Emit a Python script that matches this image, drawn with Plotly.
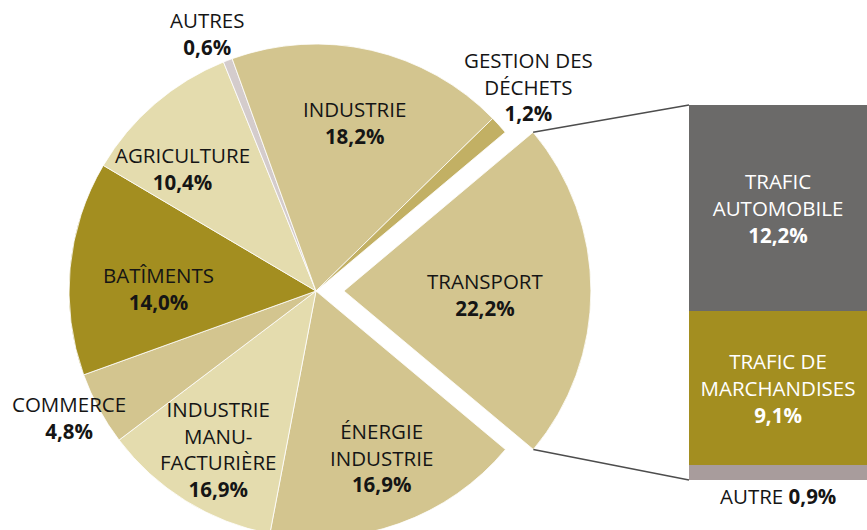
import math
import plotly.graph_objects as go

# ---------------- data ----------------
sectors = ["TRANSPORT", "ÉNERGIE INDUSTRIE", "INDUSTRIE MANUFACTURIÈRE", "COMMERCE",
           "BATÎMENTS", "AGRICULTURE", "AUTRES", "INDUSTRIE", "GESTION DES DÉCHETS"]
# slice sizes as drawn in the picture
sector_values = [22.2, 16.9, 11.7, 4.8, 14.0, 10.4, 0.6, 18.2, 1.2]
# printed percentages
sector_pct = ["22,2%", "16,9%", "16,9%", "4,8%", "14,0%", "10,4%", "0,6%", "18,2%", "1,2%"]
sector_lines = [["TRANSPORT"], ["ÉNERGIE", "INDUSTRIE"], ["INDUSTRIE", "MANU-", "FACTURIÈRE"],
                ["COMMERCE"], ["BATÎMENTS"], ["AGRICULTURE"], ["AUTRES"], ["INDUSTRIE"],
                ["GESTION DES", "DÉCHETS"]]

transport_parts = ["AUTRE", "TRAFIC DE MARCHANDISES", "TRAFIC AUTOMOBILE"]
transport_values = [0.9, 9.1, 12.2]
transport_pct = ["0,9%", "9,1%", "12,2%"]
transport_lines = [["AUTRE"], ["TRAFIC DE", "MARCHANDISES"], ["TRAFIC", "AUTOMOBILE"]]

# ---------------- styles / layout ----------------
TAN, CREAM, OLIVE = "#d3c58f", "#e4dcae", "#a38e20"
sector_colors = [TAN, TAN, CREAM, TAN, OLIVE, CREAM, "#d4cccc", TAN, "#c2b064"]
part_colors = ["#a89c9c", OLIVE, "#6b6a69"]

W, H = 867, 570          # page is viewed through an 867x530 window
CX, CY, R, PULL = 316, 291, 247, 0.113
ROT = 50
FONT = "Open Sans"
FS = 20.5
LS = 23.5                # line pitch in the reference, used to centre blocks
BAR_L, BAR_R, BAR_T, BAR_B = 689, 867, 105, 480

label_pos = {            # centre x, centre of first line y
    "TRANSPORT": (485, 283),
    "ÉNERGIE INDUSTRIE": (381, 434),
    "INDUSTRIE MANUFACTURIÈRE": (218, 414),
    "COMMERCE": (69, 406),
    "BATÎMENTS": (158, 277),
    "AGRICULTURE": (182, 157),
    "AUTRES": (207, 22),
    "INDUSTRIE": (354, 111),
    "GESTION DES DÉCHETS": (528, 63),
}


def px(x):
    return x / W


def py(y):
    return 1 - y / H


half = R * (1 + PULL)
fig = go.Figure()
fig.add_trace(go.Pie(
    labels=sectors, values=sector_values, sort=False, direction="clockwise",
    rotation=ROT, pull=[PULL] + [0] * (len(sectors) - 1),
    marker=dict(colors=sector_colors, line=dict(color="white", width=0.8)),
    textinfo="none", hoverinfo="label+value", showlegend=False,
    domain=dict(x=[px(CX - half), px(CX + half)], y=[py(CY + half), py(CY - half)]),
))

for name, val, col, lines, pct in zip(transport_parts, transport_values, part_colors,
                                      transport_lines, transport_pct):
    inside = name != "AUTRE"
    fig.add_trace(go.Bar(
        x=[0], y=[val], width=[1], name=name,
        marker=dict(color=col, line=dict(width=0)),
        text=["<br>".join(lines) + "<br><b>" + pct + "</b>"] if inside else None,
        textposition="inside" if inside else "none",
        insidetextanchor="middle", constraintext="none",
        insidetextfont=dict(family=FONT, size=FS, color="white"),
        showlegend=False, hoverinfo="name+y"))

ann = []
# pie labels
for name, lines, pct in zip(sectors, sector_lines, sector_pct):
    x0, y0 = label_pos[name]
    n = len(lines) + 1
    yc = y0 + (n - 1) / 2 * LS
    ann.append(dict(x=px(x0), y=py(yc), xref="paper", yref="paper",
                    text="<br>".join(lines) + "<br><b>" + pct + "</b>",
                    showarrow=False, xanchor="center", yanchor="middle", align="center",
                    font=dict(family=FONT, size=FS, color="#151515")))

# label under the bar for the small segment
i_aut = transport_parts.index("AUTRE")
ann.append(dict(x=0, y=0, xref="x", yref="y",
                text=transport_lines[i_aut][0] + " <b>" + transport_pct[i_aut] + "</b>",
                showarrow=False, xanchor="center", yanchor="middle", yshift=-16,
                font=dict(family=FONT, size=FS, color="#151515")))

# connector lines from exploded slice corners to bar corners
off = PULL * R
a0 = math.radians(ROT)
a1 = math.radians(ROT + 360 * sector_values[0] / sum(sector_values))
bis = (a0 + a1) / 2
ox, oy = CX + off * math.sin(bis), CY - off * math.cos(bis)
p_top = (ox + R * math.sin(a0), oy - R * math.cos(a0))
p_bot = (ox + R * math.sin(a1), oy - R * math.cos(a1))
shapes = [
    dict(type="line", xref="paper", yref="paper", x0=px(p_top[0]), y0=py(p_top[1]),
         x1=px(BAR_L), y1=py(BAR_T), line=dict(color="#4d4d4d", width=1.5)),
    dict(type="line", xref="paper", yref="paper", x0=px(p_bot[0]), y0=py(p_bot[1]),
         x1=px(BAR_L), y1=py(BAR_B), line=dict(color="#4d4d4d", width=1.5)),
]

fig.update_layout(
    width=W, height=H, margin=dict(l=0, r=0, t=0, b=0),
    paper_bgcolor="white", plot_bgcolor="white",
    barmode="stack", bargap=0,
    xaxis=dict(domain=[px(BAR_L), px(BAR_R)], range=[-0.5, 0.5], visible=False, fixedrange=True),
    yaxis=dict(domain=[py(BAR_B), py(BAR_T)], range=[0, sum(transport_values)], visible=False, fixedrange=True),
    annotations=ann, shapes=shapes,
    font=dict(family=FONT),
)

fig.write_html("out.html", config={"displayModeBar": False},
               post_script="document.body.style.margin='0';document.body.style.overflow='hidden';")
